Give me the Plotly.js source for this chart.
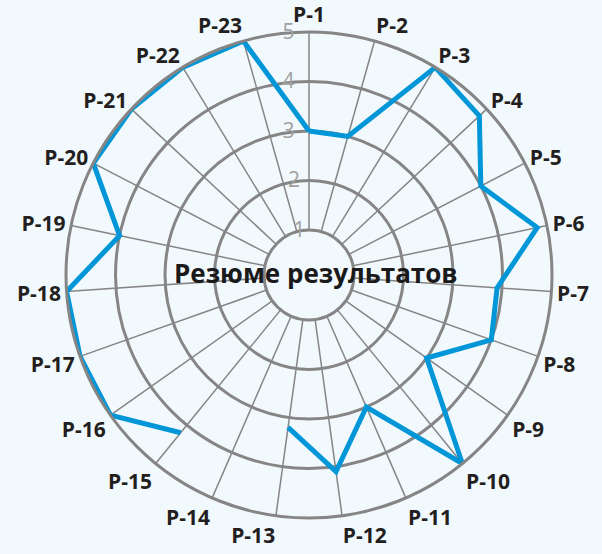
<!DOCTYPE html>
<html>
<head>
<meta charset="utf-8">
<script src="https://cdn.plot.ly/plotly-3.0.1.min.js"></script>
<style>html,body{margin:0;padding:0;background:#F2F9FD;}</style>
</head>
<body>
<div id="chart" style="width:602px;height:554px;"></div>
<script>
const categories = ["P-1","P-2","P-3","P-4","P-5","P-6","P-7","P-8","P-9","P-10","P-11","P-12","P-13","P-14","P-15","P-16","P-17","P-18","P-19","P-20","P-21","P-22","P-23"];
const values = [3, 3, 5, 4.8, 4, 4.8, 3.9, 4, 3, 5, 3, 4.1, 3.2, null, 4.2, 5, 5, 5, 4, 5, 5, 5, 5];
const radialTicks = [1, 2, 3, 4, 5];
const radialTickText = ["1", "2", "3", "4", "5"];
const chartTitle = "Резюме результатов";

const theta = categories.concat([categories[0]]);
const r = values.concat([values[0]]);
// right padding so the radial labels sit left of the P-1 spoke
const pad = [0, 1, 2, 2, 2];
const tickText = radialTickText.map((t, i) => t + '\u00a0'.repeat(pad[i]));

const data = [{
  type: 'scatterpolar',
  mode: 'lines',
  theta: theta,
  r: r,
  connectgaps: false,
  line: {color: '#0096D8', width: 5},
  hoverinfo: 'none',
  showlegend: false
}];

const layout = {
  width: 602, height: 554,
  paper_bgcolor: '#F2F9FD',
  plot_bgcolor: '#F2F9FD',
  margin: {l: 66, r: 50, t: 32, b: 36},
  showlegend: false,
  font: {family: '"Open Sans", sans-serif'},
  polar: {
    bgcolor: '#F2F9FD',
    hole: 0.185,
    domain: {x: [0, 1], y: [0, 1]},
    angularaxis: {
      type: 'category',
      categoryarray: categories,
      direction: 'clockwise',
      rotation: 90,
      showline: true,
      linecolor: '#858585',
      linewidth: 3,
      gridcolor: '#858585',
      gridwidth: 1.5,
      ticks: '',
      tickfont: {family: '"Open Sans", sans-serif', size: 21, color: '#231F20', weight: 'bold'}
    },
    radialaxis: {
      range: [1, 5],
      tickvals: radialTicks,
      ticktext: tickText,
      angle: 90,
      tickangle: 90,
      side: 'counterclockwise',
      showline: false,
      ticks: '',
      gridcolor: '#858585',
      gridwidth: 3,
      tickfont: {family: '"Open Sans", sans-serif', size: 21, color: '#A0A0A0'}
    }
  },
  annotations: [{
    text: chartTitle,
    xref: 'paper', yref: 'paper',
    x: 0.5, y: 0.5,
    xshift: 7, yshift: 2,
    showarrow: false,
    font: {family: '"Open Sans", sans-serif', size: 26, color: '#1A1A1A', weight: 'bold'}
  }]
};

Plotly.newPlot('chart', data, layout, {displayModeBar: false, staticPlot: true});
</script>
</body>
</html>
